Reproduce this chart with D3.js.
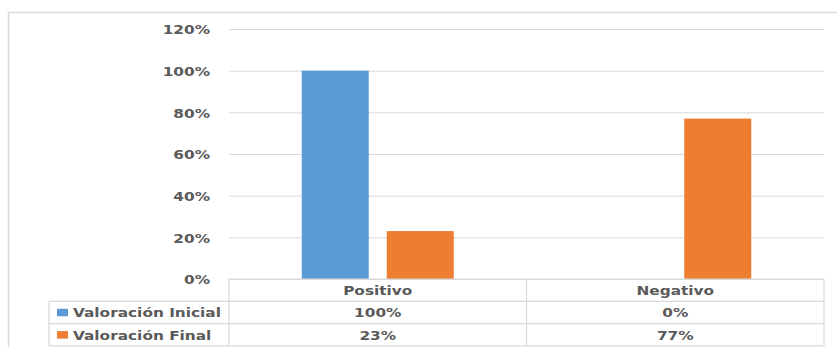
<!DOCTYPE html>
<html>
<head>
<meta charset="utf-8">
<script src="https://cdn.jsdelivr.net/npm/d3@7/dist/d3.min.js"></script>
<style>
  html, body { margin: 0; padding: 0; background: #fff; }
  svg { display: block; }
  text { font-family: "DejaVu Sans", sans-serif; font-weight: bold; font-size: 13px; fill: #595959; }
</style>
</head>
<body>
<svg id="chart" width="837" height="347"></svg>
<script>
// Categories, series and tick values
const categories = ["Positivo", "Negativo"];
const seriesNames = ["Valoración Inicial", "Valoración Final"];
const valoracionInicial = [1.00, 0.00];
const valoracionFinal = [0.23, 0.77];
const yTicks = [0, 0.2, 0.4, 0.6, 0.8, 1.0, 1.2];
const seriesColors = ["#5B9BD5", "#ED7D31"];

const seriesValues = [valoracionInicial, valoracionFinal];
const pct = d3.format(".0%");
const grid = "#d9d9d9";
const sx = 1.18; // horizontal stretch of the lettering

const svg = d3.select("#chart");

// Plot area
const plotLeft = 229, plotRight = 824, plotTop = 29, plotBottom = 279;
const rowH = 22.3;
const tableLeft = 49;

// Outer frame
svg.append("path")
  .attr("d", `M8.5,${347 + 5} V12.5 H${837 + 5}`)
  .attr("fill", "none").attr("stroke", grid).attr("stroke-width", 1.5);

const y = d3.scaleLinear().domain([0, 1.2]).range([plotBottom, plotTop]);
const x0 = d3.scaleBand().domain(categories).range([plotLeft, plotRight]).padding(0);
const x1 = d3.scaleBand().domain(seriesNames).range([0, x0.bandwidth()])
  .paddingInner(0.2118).paddingOuter(0.856);

// Gridlines and percentage labels
const yAxis = d3.axisLeft(y).tickValues(yTicks).tickFormat(pct)
  .tickSize(-(plotRight - plotLeft)).tickPadding(0);
const gy = svg.append("g").attr("transform", `translate(${plotLeft},0)`).call(yAxis);
gy.select(".domain").remove();
gy.selectAll(".tick line").attr("stroke", grid).attr("stroke-width", 1);
gy.selectAll(".tick text")
  .attr("x", -19 / sx).attr("dy", "0.36em")
  .attr("transform", `scale(${sx},1)`)
  .attr("fill", "#595959")
  .style("font-family", "'DejaVu Sans', sans-serif")
  .style("font-weight", "bold").style("font-size", "13px");

// Bars
const groups = svg.append("g").selectAll("g")
  .data(categories).join("g")
  .attr("transform", d => `translate(${x0(d)},0)`);
groups.selectAll("rect")
  .data((c, ci) => seriesNames.map((s, si) => ({ s, si, v: seriesValues[si][ci] })))
  .join("rect")
  .attr("x", d => x1(d.s))
  .attr("width", x1.bandwidth())
  .attr("y", d => y(d.v))
  .attr("height", d => y(0) - y(d.v))
  .attr("fill", d => seriesColors[d.si]);

// Data table beneath the axis
const tbl = svg.append("g").attr("stroke", grid).attr("stroke-width", 1.2).attr("fill", "none");
const r0 = plotBottom, r1 = r0 + rowH, r2 = r1 + rowH, r3 = r2 + rowH;
tbl.append("line").attr("x1", plotLeft).attr("x2", plotRight).attr("y1", r0).attr("y2", r0);
[r1, r2, r3].forEach(r => tbl.append("line").attr("x1", tableLeft).attr("x2", plotRight).attr("y1", r).attr("y2", r));
tbl.append("line").attr("x1", tableLeft).attr("x2", tableLeft).attr("y1", r1).attr("y2", r3);
[plotLeft, x0(categories[1]), plotRight].forEach(xv =>
  tbl.append("line").attr("x1", xv).attr("x2", xv).attr("y1", r0).attr("y2", r3));

function stretchedText(g, xPos, yPos, str, anchor) {
  g.append("text")
    .attr("transform", `translate(${xPos},${yPos}) scale(${sx},1)`)
    .attr("text-anchor", anchor)
    .text(str);
}

const txt = svg.append("g");
categories.forEach((c, ci) => {
  const cx = x0(c) + x0.bandwidth() / 2;
  stretchedText(txt, cx, r0 + 16, c, "middle");
  seriesValues.forEach((vals, si) => {
    stretchedText(txt, cx, r1 + rowH * si + 16, pct(vals[ci]), "middle");
  });
});

// Legend keys in the first column
seriesNames.forEach((s, si) => {
  const ry = r1 + rowH * si;
  svg.append("rect").attr("x", 57).attr("y", ry + 7.5).attr("width", 11).attr("height", 7.5)
    .attr("fill", seriesColors[si]);
  stretchedText(txt, 73, ry + 16, s, "start");
});
</script>
</body>
</html>
